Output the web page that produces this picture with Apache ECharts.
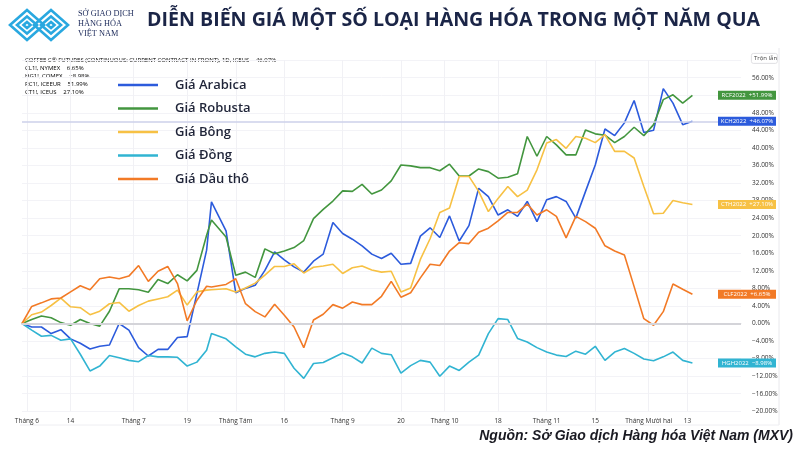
<!DOCTYPE html>
<html><head><meta charset="utf-8">
<script src="https://cdn.jsdelivr.net/npm/echarts@6/dist/echarts.min.js"></script>
<style>html,body{margin:0;padding:0;background:#fff}#c{width:800px;height:450px}</style>
</head><body><div id="c"></div>
<script>
const tradingDays = ["05-28",
"06-01","06-02","06-03","06-04","06-07","06-08","06-09","06-10","06-11","06-14","06-15","06-16","06-17","06-18","06-21","06-22","06-23","06-24","06-25","06-28","06-29","06-30",
"07-01","07-02","07-06","07-07","07-08","07-09","07-12","07-13","07-14","07-15","07-16","07-19","07-20","07-21","07-22","07-23","07-26","07-27","07-28","07-29","07-30",
"08-02","08-03","08-04","08-05","08-06","08-09","08-10","08-11","08-12","08-13","08-16","08-17","08-18","08-19","08-20","08-23","08-24","08-25","08-26","08-27","08-30","08-31",
"09-01","09-02","09-03","09-07","09-08","09-09","09-10","09-13","09-14","09-15","09-16","09-17","09-20","09-21","09-22","09-23","09-24","09-27","09-28","09-29","09-30",
"10-01","10-04","10-05","10-06","10-07","10-08","10-11","10-12","10-13","10-14","10-15","10-18","10-19","10-20","10-21","10-22","10-25","10-26","10-27","10-28","10-29",
"11-01","11-02","11-03","11-04","11-05","11-08","11-09","11-10","11-11","11-12","11-15","11-16","11-17","11-18","11-19","11-22","11-23","11-24","11-26","11-29","11-30",
"12-01","12-02","12-03","12-06","12-07","12-08","12-09","12-10","12-13","12-14","12-15","12-16","12-17","12-20","12-21","12-22","12-23","12-27","12-28","12-29"];

const sampleDates = ["05-28","06-02","06-04","06-08","06-10","06-14","06-16","06-18","06-22","06-24","06-28","06-30",
"07-02","07-07","07-09","07-13","07-15","07-19","07-21","07-23","07-26","07-29",
"08-02","08-04","08-06","08-10","08-12","08-16","08-18","08-20","08-24","08-26","08-30",
"09-01","09-03","09-08","09-10","09-14","09-16","09-20","09-22","09-24","09-28","09-30",
"10-04","10-06","10-08","10-12","10-14","10-18","10-20","10-22","10-26","10-28",
"11-01","11-03","11-05","11-09","11-11","11-15","11-17","11-19","11-23","11-26","11-30",
"12-02","12-06","12-08","12-10","12-14"];

const arabica = [0,-0.8,-0.8,-2.3,-1.4,-3.5,-4.5,-5.8,-5.2,-4.9,0,-1.5,
-5.5,-7.4,-5.9,-5.9,-3.2,-3.0,6.8,16.7,27.7,21.1,
7.0,8.0,8.7,12.1,16.3,14.5,12.9,11.7,14.2,15.8,23.0,
20.5,19.2,17.7,15.8,14.8,16.0,13.5,13.7,19.9,21.8,19.6,
24.5,18.8,22.3,30.8,28.9,24.7,25.9,24.4,27.8,23.2,
28.2,28.9,27.8,24.0,30.1,36.1,44.3,42.8,45.7,50.8,43.5,
44.0,53.5,50.2,45.3,46.07];

const robusta = [0,0.9,1.7,1.3,0.2,-0.4,0.9,0,-0.6,2.8,7.9,7.9,
7.7,7.1,10.0,9.1,11.1,9.7,12.1,20.1,23.6,19.7,
11.0,11.7,10.5,17.0,15.9,16.5,17.3,18.9,23.9,26.0,27.9,
30.2,30.1,31.7,29.5,30.4,32.5,36.1,35.9,35.5,35.5,34.8,
36.3,33.6,33.6,35.2,34.6,33.1,33.3,34.1,42.6,38.1,
42.6,40.7,38.4,38.4,44.1,43.2,42.9,41.2,42.6,44.7,42.8,
45.3,51.0,52.1,50.2,51.99];

const cotton = [0,2.0,2.6,4.1,5.8,3.8,3.6,2.0,2.8,4.5,4.8,2.8,
4.1,5.1,5.6,6.1,7.6,4.2,7.2,7.6,7.7,7.9,
7.2,8.1,9.2,11.0,13.0,13.0,13.6,11.5,12.8,13.1,13.5,
11.4,12.7,13.1,12.2,11.7,11.9,7.2,8.1,14.6,19.3,25.3,
26.3,33.5,33.5,30.1,25.5,28.5,31.2,28.9,30.4,35.0,
41.1,41.9,39.9,42.6,42.2,41.2,43.0,39.2,39.2,37.7,31.2,
25.0,25.1,28.0,27.5,27.10];

const copper = [0,-1.5,-2.9,-2.7,-3.8,-3.5,-7.0,-10.8,-9.7,-7.3,-7.8,-8.4,
-8.7,-7.3,-7.6,-7.6,-7.7,-9.7,-8.8,-6.1,-2.3,-3.5,
-5.3,-7.0,-7.6,-6.8,-6.5,-6.8,-10.2,-12.5,-9.1,-8.9,-7.8,
-6.7,-7.6,-9.0,-5.6,-6.8,-7.1,-11.3,-9.6,-8.4,-8.8,-12.0,
-9.7,-10.7,-8.8,-7.2,-2.3,1.1,0.9,-3.4,-4.2,-5.5,
-6.5,-7.2,-7.5,-6.3,-7.0,-5.2,-8.4,-6.5,-5.7,-6.8,-8.1,
-8.5,-7.6,-6.5,-8.4,-8.98];

const crude = [0,3.9,4.7,5.6,5.8,7.2,8.6,7.7,10.2,10.6,10.2,10.8,
13.2,9.6,11.9,13.0,9.1,0.6,5.3,8.5,8.3,8.9,
10.2,4.5,2.7,1.5,4.4,1.9,-0.8,-5.5,0.8,2.1,4.3,
3.5,4.9,4.3,4.3,6.2,9.6,6.0,7.0,10.4,13.5,13.2,
16.5,18.4,18.2,20.8,21.7,23.4,25.3,25.3,27.2,24.7,
25.9,24.4,19.5,24.4,23.2,21.7,17.7,16.5,15.6,8.4,1.1,
-0.4,2.7,9.0,7.8,6.65];

const xLabels = {"06-01":"Tháng 6","06-14":"14","07-01":"Tháng 7","07-19":"19","08-02":"Tháng Tám","08-16":"16",
"09-01":"Tháng 9","09-20":"20","10-01":"Tháng 10","10-18":"18","11-01":"Tháng 11","11-15":"15","12-01":"Tháng Mười hai","12-13":"13"};

const seriesNames = ["Giá Arabica","Giá Robusta","Giá Bông","Giá Đồng","Giá Dầu thô"];
const seriesColors = ["#2c5bdc","#43963f","#f7c144","#31b4d2","#f27a26"];
const tagCodes = ["KCH2022","RCF2022","CTH2022","HGH2022","CLF2022"];
const tagTexts = ["+46.07%","+51.99%","+27.10%","−8.98%","+6.65%"];
const seriesValues = [arabica, robusta, cotton, copper, crude];

const lastCat = tradingDays[tradingDays.length-1];
const FONT = "'Open Sans', 'Noto Sans', sans-serif";

const series = seriesNames.map((name, k) => {
  const vals = seriesValues[k];
  return {
    type: 'line', name, symbol: 'none', z: 3,
    data: sampleDates.map((d, i) => [d, vals[i]]),
    lineStyle: {width: 1.6, color: seriesColors[k]},
    itemStyle: {color: seriesColors[k]},
    markPoint: {
      silent: true, symbol: 'rect', symbolSize: [58, 9], symbolOffset: [6, 0],
      itemStyle: {color: seriesColors[k]},
      label: {show: true, position: 'inside', color: '#fff', fontSize: 6, fontFamily: FONT,
        formatter: tagCodes[k] + '  ' + tagTexts[k]},
      data: [{coord: [lastCat, vals[vals.length-1]]}]
    }
  };
});
series.unshift({
  type: 'line', name: '_ref', symbol: 'none', z: 1, silent: true,
  data: sampleDates.map((d, i) => [d, arabica[i]]),
  lineStyle: {opacity: 0},
  markLine: {silent: true, symbol: 'none', label: {show: false},
    data: [
      {yAxis: 0, lineStyle: {color: '#d4d4d9', width: 2, type: 'solid'}},
      {yAxis: 46.07, lineStyle: {color: '#cdd1ea', width: 1.5, type: 'solid'}}
    ]}
});

const chart = echarts.init(document.getElementById('c'), null, {renderer: 'canvas'});
const hs = (c) => ({fontSize: 6, color: c, fontFamily: FONT});
const headerRich = {k: hs('#555'), b: hs('#2c5bdc'), o: hs('#f27a26'), c: hs('#31b4d2'), g: hs('#43963f'), y: hs('#e8b030')};
function logoDiamond(cx, cy, hw, hh) {
  return {type: 'polygon', shape: {points: [[cx-hw,cy],[cx,cy-hh],[cx+hw,cy],[cx,cy+hh]]},
    style: {fill: 'none', stroke: '#29a8e0', lineWidth: 2.6}};
}
const logoFont = "'Liberation Serif', serif";
chart.setOption({
  animation: false,
  backgroundColor: '#fff',
  grid: {left: 22, right: 59, top: 60.1, bottom: 38.7, containLabel: false},
  legend: {
    data: seriesNames, orient: 'vertical', left: 113, top: 72,
    icon: 'rect', itemWidth: 40, itemHeight: 2.5, itemGap: 7.5,
    textStyle: {fontSize: 13, fontWeight: 600, color: '#1f2438', fontFamily: FONT, lineHeight: 16, padding: [0, 0, 0, 12]},
    selectedMode: false
  },
  xAxis: {
    type: 'category', data: tradingDays, boundaryGap: false,
    axisLine: {show: true, lineStyle: {color: '#e4e4e8'}},
    axisTick: {show: false},
    axisLabel: {interval: (i, v) => v in xLabels, formatter: v => xLabels[v] || '',
      fontSize: 6.5, color: '#333', fontFamily: FONT, margin: 6},
    splitLine: {show: true, interval: (i, v) => v in xLabels, lineStyle: {color: '#f1f1f5'}}
  },
  yAxis: {
    type: 'value', position: 'right', min: -20, max: 60, interval: 4,
    axisLine: {show: false}, axisTick: {show: false},
    axisLabel: {showMaxLabel: false, margin: 11, fontSize: 6.5, color: '#333', fontFamily: FONT, align: 'left',
      formatter: v => (v < 0 ? '−' : '') + Math.abs(v).toFixed(2) + '%'},
    splitLine: {lineStyle: {color: '#f3f3f7'}}
  },
  series,
  graphic: [
    logoDiamond(27, 25, 17, 15), logoDiamond(27, 25, 10, 8.5), logoDiamond(27, 25, 3.5, 3),
    logoDiamond(51, 25, 17, 15), logoDiamond(51, 25, 10, 8.5), logoDiamond(51, 25, 3.5, 3),
    {type: 'text', left: 78, top: 10, style: {text: 'SỞ GIAO DỊCH', fontSize: 8.3, fontFamily: logoFont, fill: '#1c2a5a'}},
    {type: 'text', left: 78, top: 20, style: {text: 'HÀNG HÓA', fontSize: 8.3, fontFamily: logoFont, fill: '#1c2a5a'}},
    {type: 'text', left: 78, top: 30, style: {text: 'VIỆT NAM', fontSize: 8.3, fontFamily: logoFont, fill: '#1c2a5a'}},
    {type: 'text', left: 147, top: 10, style: {text: 'DIỄN BIẾN GIÁ MỘT SỐ LOẠI HÀNG HÓA TRONG MỘT NĂM QUA',
      fontSize: 19.6, fontWeight: 'bold', fontFamily: FONT, fill: '#1b2547'}},
    {type: 'text', left: 25, top: 54, style: {rich: headerRich,
      text: '{k|COFFEE C® FUTURES (CONTINUOUS: CURRENT CONTRACT IN FRONT), 1D, ICEUS}  {b|46.07%}\n{k|CL1!, NYMEX}  {o|6.65%}\n{k|HG1!, COMEX}  {c|−8.98%}\n{k|RC1!, ICEEUR}  {g|51.99%}\n{k|CT1!, ICEUS}  {y|27.10%}',
      lineHeight: 8}},
    {type: 'rect', left: 751, top: 53, shape: {width: 26, height: 10, r: 2}, style: {fill: '#fff', stroke: '#d8d8dc', lineWidth: 0.8}},
    {type: 'text', left: 754, top: 55.5, style: {text: 'Trộn lẫn', fontSize: 6, fill: '#444', fontFamily: FONT}},
    {type: 'line', shape: {x1: 779, y1: 48, x2: 779, y2: 425}, style: {stroke: '#e8e8ec', lineWidth: 1}},
    {type: 'line', shape: {x1: 20, y1: 425, x2: 779, y2: 425}, style: {stroke: '#eeeef2', lineWidth: 1}},
    {type: 'text', right: 7, top: 429, style: {text: 'Nguồn: Sở Giao dịch Hàng hóa Việt Nam (MXV)',
      fontSize: 14, fontWeight: 'bold', fontStyle: 'italic', fontFamily: "'Liberation Sans', Arial, sans-serif", fill: '#1a1a22'}}
  ]
});
</script></body></html>
